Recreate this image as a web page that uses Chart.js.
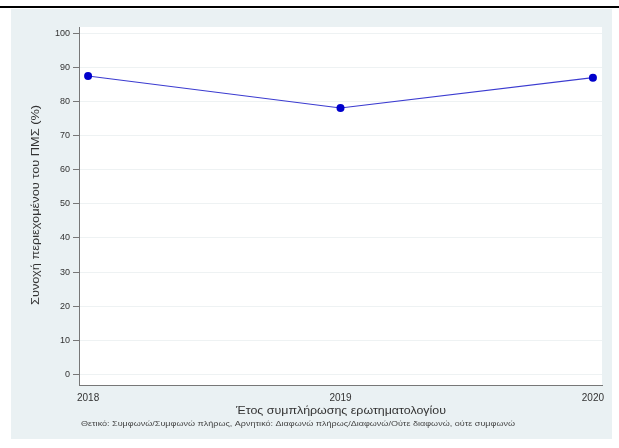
<!DOCTYPE html>
<html>
<head>
<meta charset="utf-8">
<script src="https://cdn.jsdelivr.net/npm/chart.js@4"></script>
<style>
    html, body { margin: 0; padding: 0; background: #fff; }
    #wrap { width: 619px; height: 448px; position: relative; }
</style>
</head>
<body>
<div id="wrap"><canvas id="chart"></canvas></div>
<script>
const years = [2018, 2019, 2020]
const shareValues = [87.6, 78.2, 87.1]
const yTicks = [0, 10, 20, 30, 40, 50, 60, 70, 80, 90, 100]

const yTitle = 'Συνοχή περιεχομένου του ΠΜΣ (%)'
const xTitle = 'Έτος συμπλήρωσης ερωτηματολογίου'
const note = 'Θετικό: Συμφωνώ/Συμφωνώ πλήρως, Αρνητικό: Διαφωνώ πλήρως/Διαφωνώ/Ούτε διαφωνώ, ούτε συμφωνώ'

const FONT = '"Liberation Sans", Arial, sans-serif'

// draw text centred at (x, y), stretched to a given width
function fitText(ctx, text, x, y, width, size, color) {
    ctx.save()
    ctx.font = `${size}px ${FONT}`
    ctx.fillStyle = color
    ctx.textAlign = 'center'
    ctx.textBaseline = 'middle'
    const w = ctx.measureText(text).width
    ctx.translate(x, y)
    ctx.scale(width / w, 1)
    ctx.fillText(text, 0, 0)
    ctx.restore()
}

const frame = {
    id: 'frame',
    beforeDraw(chart) {
        const { ctx, chartArea: a } = chart
        ctx.save()
        ctx.fillStyle = '#eaf1f3'
        ctx.fillRect(11, 9, 601, 430)
        ctx.fillStyle = '#000'
        ctx.fillRect(0, 6, 619, 2)
        ctx.fillStyle = '#ffffff'
        ctx.fillRect(a.left, a.top, a.right - a.left, a.bottom - a.top)
        ctx.restore()
    },
    afterDraw(chart) {
        const { ctx } = chart
        fitText(ctx, xTitle, 341, 411, 210, 10, '#333')
        fitText(ctx, note, 298, 424, 434, 7, '#444')
        ctx.save()
        ctx.translate(36, 205)
        ctx.rotate(-Math.PI / 2)
        fitText(ctx, yTitle, 0, 0, 200, 10, '#333')
        ctx.restore()
    }
}

new Chart(document.getElementById('chart'), {
    type: 'line',
    data: {
        datasets: [{
            data: years.map((y, i) => ({ x: y, y: shareValues[i] })),
            borderColor: '#3b3bd0',
            borderWidth: 1.2,
            pointRadius: 4,
            pointBackgroundColor: '#0000cc',
            pointBorderColor: '#0000cc',
            pointBorderWidth: 0,
            tension: 0
        }]
    },
    options: {
        responsive: true,
        maintainAspectRatio: false,
        animation: false,
        layout: { padding: { top: 27, right: 17, bottom: 0, left: 0 } },
        plugins: { legend: { display: false }, tooltip: { enabled: false } },
        scales: {
            x: {
                type: 'linear',
                min: 2017.964,
                max: 2020.036,
                afterBuildTicks: scale => { scale.ticks = years.map(v => ({ value: v })) },
                afterFit: scale => { scale.height = 63 },
                ticks: {
                    color: '#333',
                    font: { family: FONT, size: 10 },
                    padding: 2,
                    maxRotation: 0,
                    callback: v => String(v)
                },
                grid: { display: false, drawTicks: true, tickLength: 5, tickColor: '#777' },
                border: { color: '#777', width: 1 }
            },
            y: {
                min: -3.2,
                max: 102,
                afterBuildTicks: scale => { scale.ticks = yTicks.map(v => ({ value: v })) },
                afterFit: scale => { scale.width = 79 },
                ticks: {
                    color: '#333',
                    font: { family: FONT, size: 9 },
                    padding: 3
                },
                grid: {
                    color: '#eef2f3',
                    lineWidth: 1,
                    drawTicks: true,
                    tickLength: 6,
                    tickColor: '#777'
                },
                border: { color: '#777', width: 1 }
            }
        }
    },
    plugins: [frame]
})
</script>
</body>
</html>
